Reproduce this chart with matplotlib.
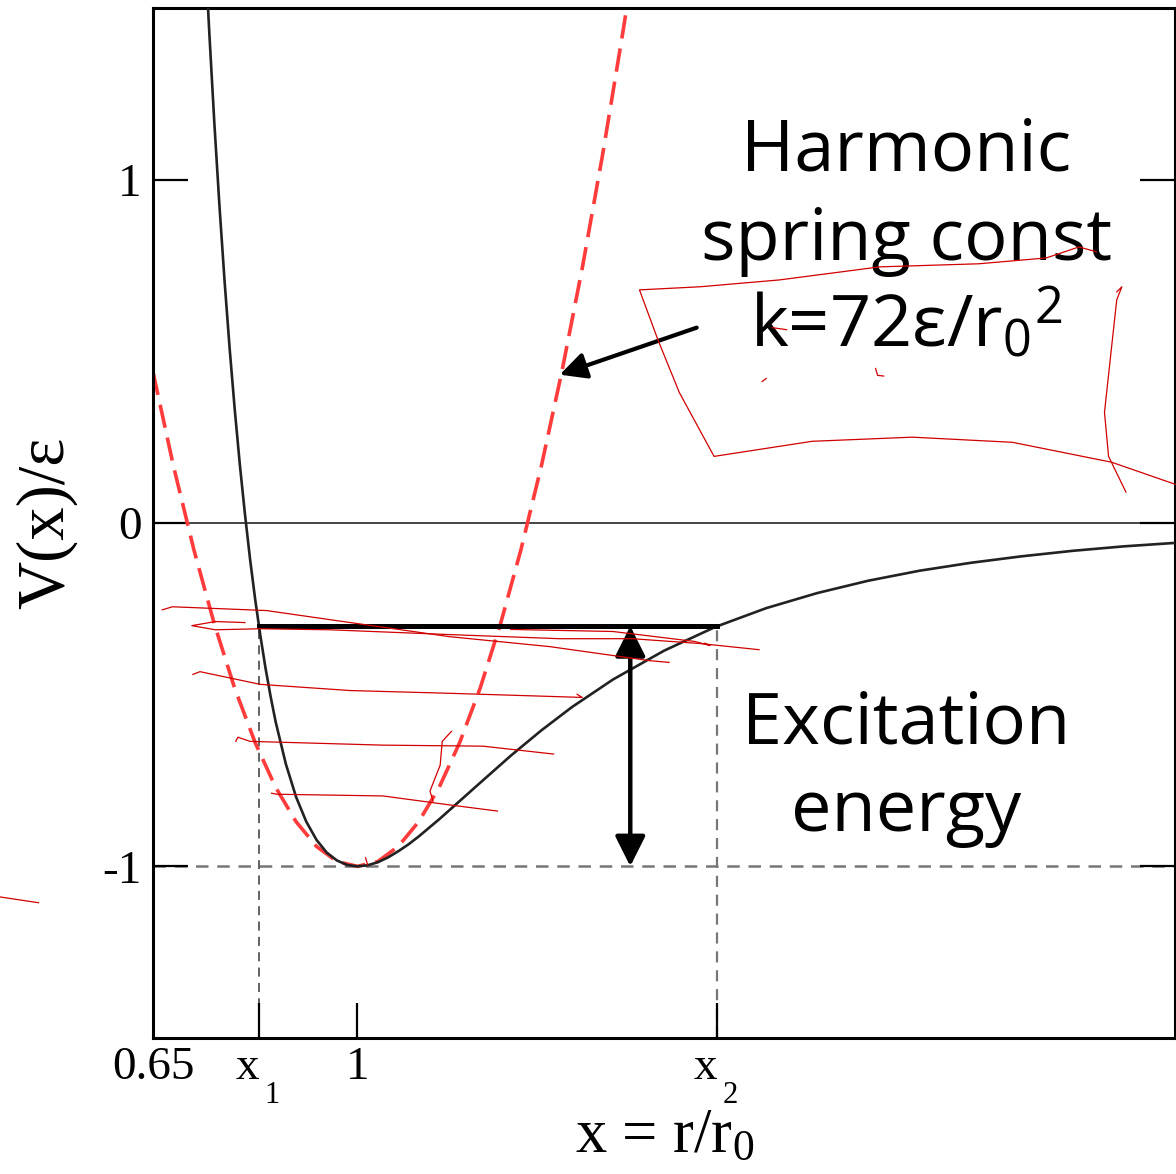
import matplotlib
matplotlib.use("Agg")
import matplotlib.pyplot as plt

plt.rcParams['mathtext.fontset'] = 'custom'
plt.rcParams['mathtext.rm'] = 'Liberation Serif'
plt.rcParams['mathtext.it'] = 'Liberation Serif:italic'
plt.rcParams['mathtext.sf'] = 'Open Sans'

# Lennard-Jones curve V(x)/eps
lj_x = [0.850, 0.855, 0.860, 0.865, 0.870, 0.875, 0.880, 0.885, 0.890, 0.895,
        0.900, 0.905, 0.910, 0.915, 0.920, 0.930, 0.940, 0.950, 0.960, 0.970,
        0.980, 0.990, 1.000, 1.010, 1.020, 1.030, 1.040, 1.050, 1.060, 1.080,
        1.100, 1.120, 1.150, 1.180, 1.210, 1.250, 1.300, 1.350, 1.400, 1.450,
        1.500, 1.550, 1.600, 1.650, 1.700, 1.750, 1.800]
lj_v = [1.727, 1.433, 1.166, 0.925, 0.706, 0.508, 0.330, 0.169, 0.025, -0.106,
        -0.223, -0.327, -0.421, -0.504, -0.579, -0.702, -0.798, -0.870, -0.923, -0.960,
        -0.983, -0.996, -1.000, -0.997, -0.988, -0.974, -0.956, -0.936, -0.913, -0.863,
        -0.810, -0.757, -0.678, -0.604, -0.536, -0.456, -0.372, -0.303, -0.248, -0.204,
        -0.168, -0.139, -0.116, -0.097, -0.081, -0.068, -0.058]

# harmonic approximation (red dashed)
harm_x = [0.80, 0.82, 0.84, 0.86, 0.88, 0.90, 0.92, 0.94, 0.96, 0.98, 1.00,
          1.02, 1.04, 1.06, 1.08, 1.10, 1.12, 1.14, 1.16, 1.18, 1.20, 1.22,
          1.24, 1.26, 1.27]
harm_v = [0.440, 0.166, -0.078, -0.294, -0.482, -0.640, -0.770, -0.870, -0.942, -0.986, -1.000,
          -0.986, -0.942, -0.870, -0.770, -0.640, -0.482, -0.294, -0.078, 0.166, 0.440, 0.742,
          1.074, 1.434, 1.624]

# energy level and turning points
level = -0.3
x1 = 0.904
x2 = 1.352
x_arrow = 1.267

xtick_pos = [0.8, x1, 1.0, x2]
xtick_lab = ['0.65', 'x', '1', 'x']
sub_pos = [x1, x2]
sub_lab = ['1', '2']
ytick_pos = [-1, 0, 1]
ytick_lab = ['-1', '0', '1']

# red hand-drawn ink strokes (data coords)
strokes = [
    [(0.809, -0.253), (0.819, -0.244), (0.911, -0.255), (0.993, -0.290), (1.090, -0.331),
     (1.188, -0.360), (1.286, -0.401), (1.305, -0.406)],
    [(0.890, -0.290), (0.861, -0.287), (0.838, -0.299), (0.861, -0.311), (0.905, -0.308),
     (0.973, -0.311), (1.090, -0.325), (1.198, -0.337), (1.269, -0.337), (1.335, -0.351),
     (1.393, -0.369)],
    [(1.150, -0.310), (1.250, -0.316), (1.330, -0.345), (1.345, -0.357), (1.340, -0.350)],
    [(0.839, -0.441), (0.846, -0.433), (0.905, -0.470), (0.993, -0.488), (1.090, -0.496),
     (1.220, -0.508), (1.215, -0.499)],
    [(0.881, -0.636), (0.883, -0.624), (0.895, -0.636), (1.025, -0.647), (1.123, -0.650),
     (1.192, -0.673)],
    [(0.916, -0.787), (0.921, -0.790), (1.025, -0.795), (1.090, -0.821), (1.137, -0.839)],
    [(1.092, -0.607), (1.083, -0.636), (1.081, -0.705), (1.071, -0.781), (1.074, -0.810)],
    [(1.008, -0.975), (1.010, -0.996)],
    [(1.723, 0.790), (1.706, 0.804), (1.674, 0.772), (1.608, 0.755), (1.511, 0.746),
     (1.413, 0.708), (1.335, 0.688), (1.276, 0.679), (1.294, 0.534), (1.315, 0.380),
     (1.349, 0.194), (1.445, 0.238), (1.543, 0.250), (1.641, 0.235), (1.738, 0.177),
     (1.800, 0.113)],
    [(1.743, 0.673), (1.748, 0.688), (1.743, 0.650), (1.738, 0.514), (1.731, 0.322),
     (1.735, 0.194), (1.752, 0.090)],
    [(1.406, 0.569), (1.420, 0.563)],
    [(1.396, 0.412), (1.400, 0.421)],
    [(1.507, 0.450), (1.509, 0.430), (1.515, 0.428)],
    [(0.650, -1.089), (0.688, -1.106)],
]

fig = plt.figure(figsize=(11.76, 11.74), dpi=100)
ax = fig.add_axes([153 / 1176, 136 / 1174, 1022 / 1176, 1030 / 1174])

ax.axhline(0, color='#444444', lw=1.4, zorder=1)
ax.axhline(-1, color='#777777', lw=1.8, ls=(0, (5, 3.5)), zorder=1)
ax.plot([x1, x1], [-1.5, level], color='#555555', lw=1.3, ls=(0, (5, 3.5)), zorder=1)
ax.plot([x2, x2], [-1.5, level], color='#777777', lw=1.6, ls=(0, (5, 3.5)), zorder=1)

ax.plot(lj_x, lj_v, color='#222222', lw=1.9, zorder=3)
ax.plot(harm_x, harm_v, color='#ff3b3b', lw=2.6, ls=(0, (6.5, 2.8)), zorder=2)

ax.plot([x1, x2], [level, level], color='black', lw=3.6, zorder=4)

ax.annotate('', xy=(x_arrow, -1.0), xytext=(x_arrow, level),
            arrowprops=dict(arrowstyle='<|-|>', lw=3.2, color='black',
                            mutation_scale=46, shrinkA=0, shrinkB=0), zorder=5)
ax.annotate('', xy=(1.198, 0.432), xytext=(1.332, 0.569),
            arrowprops=dict(arrowstyle='-|>', lw=3.0, color='black',
                            mutation_scale=40, shrinkA=0, shrinkB=0), zorder=5)

tfont = dict(family=['Open Sans', 'DejaVu Sans'], fontsize=52, ha='center', va='baseline')
ax.text(1.537, 1.028, 'Harmonic', **tfont)
ax.text(1.537, 0.766, 'spring const', **tfont)
ax.text(1.537, 0.514, r'k=72ε/r$_\mathsf{0}$$^\mathsf{2}$', **tfont)
ax.text(1.537, -0.641, 'Excitation', **tfont)
ax.text(1.537, -0.897, 'energy', **tfont)

for s in strokes:
    ax.plot([p[0] for p in s], [p[1] for p in s], color='#d00000', lw=0.9,
            zorder=6, clip_on=False)

ax.set_xlim(0.8, 1.8)
ax.set_ylim(-1.5, 1.5)

ax.set_xticks(xtick_pos)
ax.set_xticklabels(xtick_lab, family='Liberation Serif', fontsize=34)
ax.set_yticks(ytick_pos)
ax.set_yticklabels(ytick_lab, family='Liberation Serif', fontsize=34)
ax.tick_params(direction='in', length=25, width=1.6, right=True, top=False)
ax.tick_params(axis='y', pad=8)
ax.tick_params(axis='x', pad=6)
ax.get_xticklines()[0].set_visible(False)

# the "x" labels sit just left of their tick, the subscript to the right
for i in (1, 3):
    ax.get_xticklabels()[i].set_horizontalalignment('right')
    ax.get_xticklabels()[i].set_x(xtick_pos[i])
for xp, lab in zip(sub_pos, sub_lab):
    ax.annotate(lab, xy=(xp, 0), xycoords=('data', 'axes fraction'),
                xytext=(4, -31), textcoords='offset points',
                family='Liberation Serif', fontsize=22, ha='left', va='top')

for sp in ax.spines.values():
    sp.set_linewidth(2.2)

ax.set_xlabel('x = r/r$_0$', family='Liberation Serif', fontsize=45)
ax.xaxis.set_label_coords(0.501, -0.068)
ax.set_ylabel('V(x)/ε', family='Liberation Serif', fontsize=48, labelpad=18)

fig.savefig('out.png', dpi=100)
